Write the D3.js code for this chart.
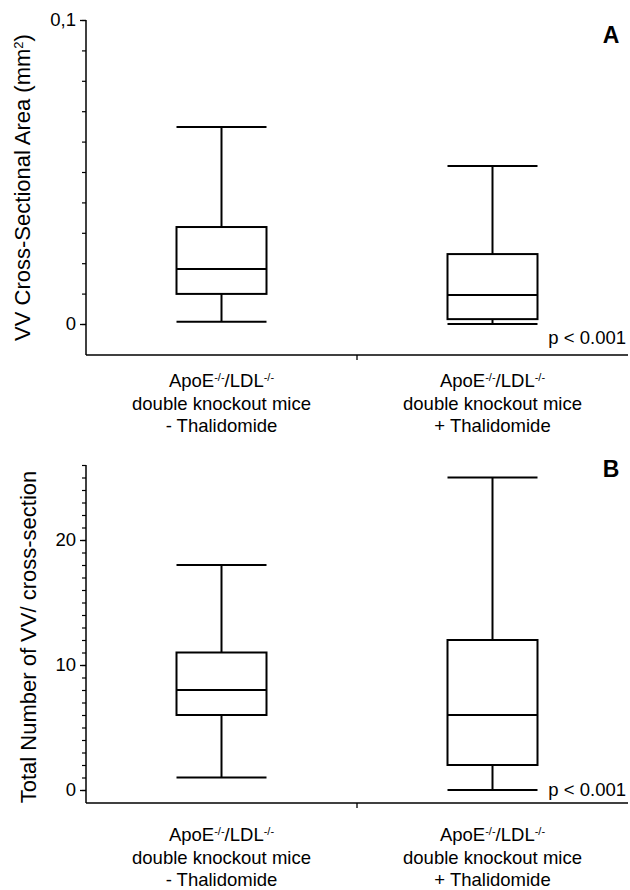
<!DOCTYPE html>
<html>
<head>
<meta charset="utf-8">
<script src="https://cdn.jsdelivr.net/npm/d3@7"></script>
<style>
  body { margin: 0; background: #fff; }
  svg { display: block; font-family: "Liberation Sans", Arial, sans-serif; }
</style>
</head>
<body>
<div id="chart"></div>
<script>
// groups on the x axis
const groups = ["minus", "plus"];
const groupTreatment = ["- Thalidomide", "+ Thalidomide"];

// panel A: VV cross-sectional area (mm²)
const areaLow = [0.0007, 0.0];
const areaQ1 = [0.0099, 0.0016];
const areaMedian = [0.0181, 0.0095];
const areaQ3 = [0.0319, 0.023];
const areaHigh = [0.0648, 0.052];
const areaTicks = [0, 0.1];
const areaTickLabels = ["0", "0,1"];
const areaMinor = d3.range(0, 11).map(i => i / 100);

// panel B: total number of VV per cross-section
const countLow = [1, 0];
const countQ1 = [6, 2];
const countMedian = [8, 6];
const countQ3 = [11, 12];
const countHigh = [18, 25];
const countTicks = [0, 10, 20];
const countMinor = d3.range(0, 27);

const size = { width: 630, height: 890, left: 86, right: 628, boxWidth: 90 };
const ink = "#000";

const svg = d3.select("#chart").append("svg")
  .attr("width", size.width)
  .attr("height", size.height);

const x = d3.scaleBand().domain(groups).range([size.left, size.right]);

function panel(cfg) {
  const g = svg.append("g");
  const y = cfg.y;

  // y axis line
  g.append("line")
    .attr("x1", size.left).attr("x2", size.left)
    .attr("y1", cfg.top).attr("y2", cfg.bottom)
    .attr("stroke", ink).attr("stroke-width", 1.5);

  // minor ticks
  g.append("g")
    .attr("transform", `translate(${size.left},0)`)
    .call(d3.axisLeft(y).tickValues(cfg.minor).tickSize(4).tickFormat(""))
    .call(s => s.select(".domain").remove())
    .selectAll("line").attr("stroke", ink).attr("stroke-width", 1.2);

  // major ticks with labels
  g.append("g")
    .attr("transform", `translate(${size.left},0)`)
    .call(d3.axisLeft(y).tickValues(cfg.ticks).tickSize(6).tickPadding(4)
      .tickFormat((d, i) => cfg.tickLabels[i]))
    .call(s => s.select(".domain").remove())
    .call(s => s.selectAll("line").attr("stroke", ink).attr("stroke-width", 1.3))
    .call(s => s.selectAll("text")
      .attr("fill", ink)
      .style("font-size", "18.5px")
      .style("font-family", "Liberation Sans, Arial, sans-serif"));

  // x axis
  g.append("line")
    .attr("x1", size.left).attr("x2", size.right)
    .attr("y1", cfg.bottom).attr("y2", cfg.bottom)
    .attr("stroke", ink).attr("stroke-width", 1.5);
  g.append("line")
    .attr("x1", x(groups[1])).attr("x2", x(groups[1]))
    .attr("y1", cfg.bottom).attr("y2", cfg.bottom + 5)
    .attr("stroke", ink).attr("stroke-width", 1.3);

  // boxes
  groups.forEach((grp, i) => {
    const cx = x(grp) + x.bandwidth() / 2;
    const x0 = cx - size.boxWidth / 2;
    const x1 = cx + size.boxWidth / 2;
    const b = g.append("g").attr("stroke", ink).attr("stroke-width", 2).attr("fill", "none");
    b.append("line").attr("x1", cx).attr("x2", cx)
      .attr("y1", y(cfg.high[i])).attr("y2", y(cfg.q3[i]));
    b.append("line").attr("x1", cx).attr("x2", cx)
      .attr("y1", y(cfg.q1[i])).attr("y2", y(cfg.low[i]));
    b.append("line").attr("x1", x0).attr("x2", x1)
      .attr("y1", y(cfg.high[i])).attr("y2", y(cfg.high[i]));
    b.append("line").attr("x1", x0).attr("x2", x1)
      .attr("y1", y(cfg.low[i])).attr("y2", y(cfg.low[i]));
    b.append("rect").attr("x", x0).attr("width", size.boxWidth)
      .attr("y", y(cfg.q3[i])).attr("height", y(cfg.q1[i]) - y(cfg.q3[i]));
    b.append("line").attr("x1", x0).attr("x2", x1)
      .attr("y1", y(cfg.median[i])).attr("y2", y(cfg.median[i]));
  });

  // y title
  g.append("text")
    .attr("transform", `translate(${cfg.titleX},${(cfg.top + cfg.bottom) / 2 + cfg.titleShift}) rotate(-90)`)
    .attr("text-anchor", "middle")
    .style("font-size", "22px")
    .attr("fill", ink)
    .call(cfg.title);

  // panel letter
  g.append("text")
    .attr("x", 611).attr("y", cfg.letterY)
    .attr("text-anchor", "middle")
    .style("font-size", "23px").style("font-weight", "bold")
    .text(cfg.letter);

  // p value
  g.append("text")
    .attr("x", 626).attr("y", cfg.pY)
    .attr("text-anchor", "end")
    .style("font-size", "18.5px")
    .text("p < 0.001");

  // category labels
  groups.forEach((grp, i) => {
    const cx = x(grp) + x.bandwidth() / 2;
    const t = g.append("text")
      .attr("text-anchor", "middle")
      .style("font-size", "18.5px")
      .attr("fill", ink);
    const l1 = t.append("tspan").attr("x", cx).attr("y", cfg.labelY);
    l1.append("tspan").text("ApoE");
    l1.append("tspan").attr("dy", -6).style("font-size", "11px").text("-/-");
    l1.append("tspan").attr("dy", 6).text("/LDL");
    l1.append("tspan").attr("dy", -6).style("font-size", "11px").text("-/-");
    t.append("tspan").attr("x", cx).attr("y", cfg.labelY + 22.5).text("double knockout mice");
    t.append("tspan").attr("x", cx).attr("y", cfg.labelY + 45).text(groupTreatment[i]);
  });
}

panel({
  y: d3.scaleLinear().domain([0, 0.1]).range([324, 20]),
  top: 20, bottom: 355,
  ticks: areaTicks, tickLabels: areaTickLabels, minor: areaMinor,
  low: areaLow, q1: areaQ1, median: areaMedian, q3: areaQ3, high: areaHigh,
  titleX: 30, titleShift: 0,
  title: t => {
    t.append("tspan").text("VV Cross-Sectional Area (mm");
    t.append("tspan").attr("dy", -7).style("font-size", "13px").text("2");
    t.append("tspan").attr("dy", 7).text(")");
  },
  letter: "A", letterY: 43, pY: 344, labelY: 387
});

panel({
  y: d3.scaleLinear().domain([0, 20]).range([790, 540]),
  top: 465, bottom: 803,
  ticks: countTicks, tickLabels: countTicks.map(String), minor: countMinor,
  low: countLow, q1: countQ1, median: countMedian, q3: countQ3, high: countHigh,
  titleX: 36, titleShift: 3,
  title: t => t.text("Total Number of VV/ cross-section"),
  letter: "B", letterY: 477, pY: 796, labelY: 841
});
</script>
</body>
</html>
